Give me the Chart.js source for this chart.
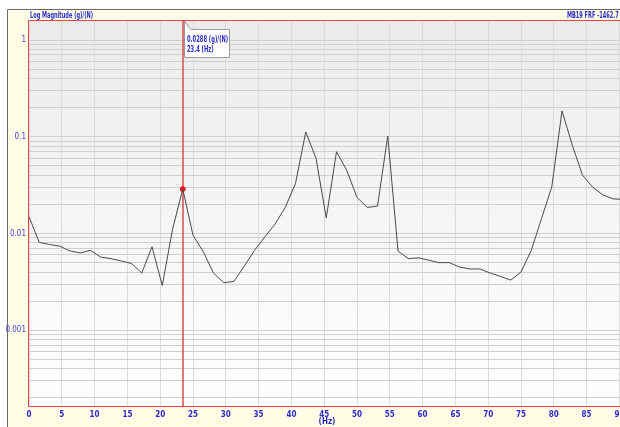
<!DOCTYPE html>
<html><head><meta charset="utf-8">
<script src="https://cdn.jsdelivr.net/npm/chart.js@4/dist/chart.umd.min.js"></script>
<style>
html,body{margin:0;padding:0;overflow:hidden;background:#fff;width:620px;height:427px}
#wrap{width:640px;height:427px}
canvas{display:block}
</style></head><body>
<div id="wrap"><canvas id="c" width="640" height="427"></canvas></div>
<script>
// ---- data ----
const freqHz = [0, 1.5625, 3.125, 4.6875, 6.25, 7.8125, 9.375, 10.9375, 12.5, 14.0625,
  15.625, 17.1875, 18.75, 20.3125, 21.875, 23.4375, 25, 26.5625, 28.125, 29.6875,
  31.25, 32.8125, 34.375, 35.9375, 37.5, 39.0625, 40.625, 42.1875, 43.75, 45.3125,
  46.875, 48.4375, 50, 51.5625, 53.125, 54.6875, 56.25, 57.8125, 59.375, 60.9375,
  62.5, 64.0625, 65.625, 67.1875, 68.75, 70.3125, 71.875, 73.4375, 75, 76.5625,
  78.125, 79.6875, 81.25, 82.8125, 84.375, 85.9375, 87.5, 89.0625, 90.625];
const magnitude = [0.0149, 0.0081, 0.0077, 0.0074, 0.0066, 0.0063, 0.0067, 0.0057, 0.0055, 0.0052,
  0.0049, 0.0039, 0.0073, 0.0029, 0.011, 0.0288, 0.0096, 0.0065, 0.0039, 0.0031,
  0.0032, 0.0046, 0.0067, 0.0092, 0.0125, 0.0186, 0.033, 0.112, 0.060, 0.0145,
  0.070, 0.045, 0.0236, 0.0186, 0.0192, 0.102, 0.0066, 0.0055, 0.0056, 0.0053,
  0.0050, 0.0050, 0.0045, 0.0043, 0.0043, 0.0039, 0.0036, 0.0033, 0.0040, 0.0067,
  0.0143, 0.0303, 0.185, 0.082, 0.040, 0.030, 0.025, 0.0228, 0.0225];
const xTickValues = [0, 5, 10, 15, 20, 25, 30, 35, 40, 45, 50, 55, 60, 65, 70, 75, 80, 85, 90];
const yDecades = [1, 0.1, 0.01, 0.001];
const yTickLabels = ['1', '0.1', '0.01', '0.001'];
const cursorHz = 23.4375;
const cursorValue = 0.0288;
const titleLeft = 'Log Magnitude (g)/(N)';
const titleRight = 'MB19 FRF -1462.7';
const xUnit = '(Hz)';
const yUnit = '(g)/(N)';

// ---- style ----
const FAM = "'Liberation Sans Narrow','Arial Narrow','DejaVu Sans Condensed',sans-serif";
const BLUE = '#2b2bc8';
const RED = '#e04848';
const yMin = 0.000161, yMax = 1.61;

function narrowText(ctx, text, x, y, sx) {
  ctx.save();
  ctx.translate(x, y);
  ctx.scale(sx, 1);
  ctx.fillText(text, 0, 0);
  ctx.restore();
}

const framePlugin = {
  id: 'frame',
  beforeDraw(chart) {
    const {ctx, width, height, chartArea: a} = chart;
    ctx.save();
    ctx.fillStyle = '#ffffff';
    ctx.fillRect(0, 0, width, height);
    ctx.fillStyle = '#fffde6';
    ctx.fillRect(7, 9, width - 7, height - 9);
    ctx.strokeStyle = '#6a6a6a';
    ctx.lineWidth = 1;
    ctx.beginPath();
    ctx.moveTo(7.5, height); ctx.lineTo(7.5, 9.5); ctx.lineTo(width, 9.5);
    ctx.stroke();
    const g = ctx.createLinearGradient(0, a.top, 0, a.bottom);
    g.addColorStop(0, '#ebebeb');
    g.addColorStop(1, '#ffffff');
    ctx.fillStyle = g;
    ctx.fillRect(a.left, a.top, a.right - a.left, a.bottom - a.top);
    ctx.fillStyle = BLUE;
    ctx.font = 'bold 8px ' + FAM;
    ctx.textBaseline = 'alphabetic';
    ctx.textAlign = 'left';
    narrowText(ctx, titleLeft, 30, 18, 0.7);
    narrowText(ctx, titleRight, 567, 18, 0.7);
    ctx.restore();
  },
  beforeDatasetsDraw(chart) {
    const {ctx, chartArea: a, scales} = chart;
    const cx = Math.round(scales.x.getPixelForValue(cursorHz));
    ctx.save();
    ctx.strokeStyle = RED;
    ctx.lineWidth = 1.5;
    ctx.beginPath();
    ctx.moveTo(cx, a.top); ctx.lineTo(cx, a.bottom);
    ctx.stroke();
    ctx.restore();
  },
  afterDraw(chart) {
    const {ctx, width, chartArea: a, scales} = chart;
    ctx.save();
    ctx.strokeStyle = RED;
    ctx.lineWidth = 1;
    ctx.beginPath();
    ctx.moveTo(a.left - 0.5, a.bottom - 0.5); ctx.lineTo(a.left - 0.5, a.top + 0.5); ctx.lineTo(width, a.top + 0.5);
    ctx.moveTo(a.left - 0.5, a.bottom - 0.5); ctx.lineTo(width, a.bottom - 0.5);
    ctx.stroke();
    // annotation box
    const cx = Math.round(scales.x.getPixelForValue(cursorHz));
    const L = cx + 1.5, T = 29.5, R = cx + 46.5, B = 57.5;
    ctx.beginPath();
    ctx.moveTo(L, a.top + 1);
    ctx.lineTo(L + 6, T);
    ctx.lineTo(R, T); ctx.lineTo(R, B); ctx.lineTo(L, B);
    ctx.closePath();
    ctx.fillStyle = '#ffffff';
    ctx.fill();
    ctx.strokeStyle = '#9a9a9a';
    ctx.stroke();
    ctx.fillStyle = BLUE;
    ctx.font = 'bold 8px ' + FAM;
    ctx.textAlign = 'left';
    ctx.textBaseline = 'alphabetic';
    narrowText(ctx, cursorValue.toFixed(4) + ' ' + yUnit, L + 2.5, 42, 0.72);
    narrowText(ctx, cursorHz.toFixed(1) + ' ' + xUnit, L + 2.5, 52, 0.72);
    ctx.restore();
  }
};

new Chart(document.getElementById('c'), {
  type: 'line',
  data: {
    datasets: [
      {
        data: freqHz.map((f, i) => ({x: f, y: magnitude[i]})),
        borderColor: '#4a4a4a', borderWidth: 1, pointRadius: 0, tension: 0, fill: false
      },
      {
        data: [{x: cursorHz, y: cursorValue}],
        showLine: false, pointRadius: 2.5, pointStyle: 'circle',
        pointBackgroundColor: '#ee1c1c', pointBorderColor: '#ee1c1c'
      }
    ]
  },
  options: {
    responsive: false,
    animation: false,
    events: [],
    layout: {padding: {top: 20, left: 0, right: 15, bottom: 0}},
    plugins: {legend: {display: false}, tooltip: {enabled: false}, title: {display: false}},
    scales: {
      x: {
        type: 'linear', min: 0, max: 90.85,
        afterBuildTicks(s) { s.ticks = xTickValues.map(v => ({value: v})); },
        afterFit(s) { s.height = 20; },
        grid: {color: '#dcdcdc', lineWidth: 1, drawTicks: false},
        border: {display: false},
        ticks: {color: BLUE, font: {family: FAM, size: 8, weight: 'bold'}, padding: 3,
                autoSkip: false, maxRotation: 0, callback: v => String(v)},
        title: {display: true, text: xUnit, color: BLUE, font: {family: FAM, size: 8, weight: 'bold'},
                padding: {top: 0, bottom: 0}}
      },
      y: {
        type: 'logarithmic', min: yMin, max: yMax,
        afterBuildTicks(s) {
          const t = [];
          for (let e = -4; e <= 0; e++) {
            for (let m = 1; m <= 9; m++) {
              const v = m * Math.pow(10, e);
              if (v >= yMin && v <= yMax) t.push({value: v});
            }
          }
          s.ticks = t;
        },
        afterFit(s) { s.width = 29; },
        grid: {color: '#cfcfcf', lineWidth: 1, drawTicks: false},
        border: {display: false},
        ticks: {
          color: '#4646d8', font: {family: FAM, size: 8}, padding: 3, autoSkip: false,
          callback(v) {
            const i = yDecades.findIndex(d => Math.abs(v - d) / d < 1e-6);
            return i >= 0 ? yTickLabels[i] : '';
          }
        }
      }
    }
  },
  plugins: [framePlugin]
});
</script>
</body></html>
